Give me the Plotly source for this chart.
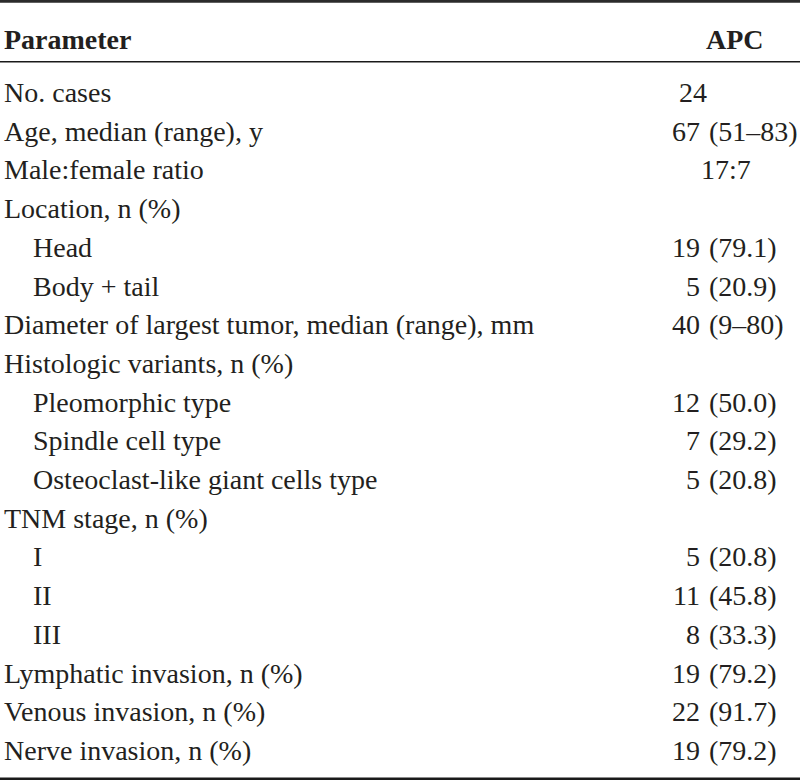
import plotly.graph_objects as go

# ---- data ----
header_left = "Parameter"
header_right = "APC"
labels = [
    "No. cases",
    "Age, median (range), y",
    "Male:female ratio",
    "Location, n (%)",
    "Head",
    "Body + tail",
    "Diameter of largest tumor, median (range), mm",
    "Histologic variants, n (%)",
    "Pleomorphic type",
    "Spindle cell type",
    "Osteoclast-like giant cells type",
    "TNM stage, n (%)",
    "I",
    "II",
    "III",
    "Lymphatic invasion, n (%)",
    "Venous invasion, n (%)",
    "Nerve invasion, n (%)",
]
values = [
    "24",
    "67 (51–83)",
    "17:7",
    "",
    "19 (79.1)",
    "5 (20.9)",
    "40 (9–80)",
    "",
    "12 (50.0)",
    "7 (29.2)",
    "5 (20.8)",
    "",
    "5 (20.8)",
    "11 (45.8)",
    "8 (33.3)",
    "19 (79.2)",
    "22 (91.7)",
    "19 (79.2)",
]
sub_rows = {"Head", "Body + tail", "Pleomorphic type", "Spindle cell type",
            "Osteoclast-like giant cells type", "I", "II", "III"}

# ---- layout / style ----
W, H = 800, 780
FONT = "Liberation Serif, Times New Roman, serif"
SIZE = 28
COL = "#231f20"
first_px, step_px = 92.5, 38.7
header_px = 39.5
x_main, x_sub = 3, 32
x_paren = 708          # column on which "(" is aligned
x_num_right = 701      # right edge of the count before "("
x_apc_right = 765
x_ratio_left = 700

y_top = -first_px / step_px
y_bot = (H - first_px) / step_px
header_row = (header_px - first_px) / step_px

fig = go.Figure()
ann = []
ann.append(dict(x=x_main, y=header_row, text="<b>%s</b>" % header_left,
                xanchor="left", yanchor="middle"))
ann.append(dict(x=x_apc_right, y=header_row, text="<b>%s</b>" % header_right,
                xanchor="right", yanchor="middle"))
for i, (lab, val) in enumerate(zip(labels, values)):
    ann.append(dict(x=x_sub if lab in sub_rows else x_main, y=i, text=lab,
                    xanchor="left", yanchor="middle"))
    if not val:
        continue
    if " (" in val:
        num, rest = val.split(" (", 1)
        ann.append(dict(x=x_num_right, y=i, text=num, xanchor="right", yanchor="middle"))
        ann.append(dict(x=x_paren, y=i, text="(" + rest, xanchor="left", yanchor="middle"))
    elif ":" in val:
        ann.append(dict(x=x_ratio_left, y=i, text=val, xanchor="left", yanchor="middle"))
    else:
        ann.append(dict(x=x_paren, y=i, text=val, xanchor="right", yanchor="middle"))
for a in ann:
    a.update(xref="x", yref="y", showarrow=False, borderpad=0,
             font=dict(family=FONT, size=SIZE, color=COL))

shapes = [
    dict(type="line", xref="paper", yref="paper", x0=0, x1=1, y0=1 - 1.3 / H, y1=1 - 1.3 / H,
         line=dict(color="#2b2b2b", width=2.7)),
    dict(type="line", xref="paper", yref="paper", x0=0, x1=1, y0=1 - 61.7 / H, y1=1 - 61.7 / H,
         line=dict(color="#1a1a1a", width=1.5)),
    dict(type="line", xref="paper", yref="paper", x0=0, x1=1, y0=1.2 / H, y1=1.2 / H,
         line=dict(color="#1a1a1a", width=2.5)),
]

fig.update_layout(
    width=W, height=H, margin=dict(l=0, r=0, t=0, b=0),
    paper_bgcolor="white", plot_bgcolor="white",
    xaxis=dict(range=[0, W], visible=False, fixedrange=True),
    yaxis=dict(range=[y_bot, y_top], visible=False, fixedrange=True),
    annotations=ann, shapes=shapes, showlegend=False,
)
fig.write_html("out.html", config={"displayModeBar": False},
               post_script="document.body.style.margin='0';document.body.style.overflow='hidden';")
